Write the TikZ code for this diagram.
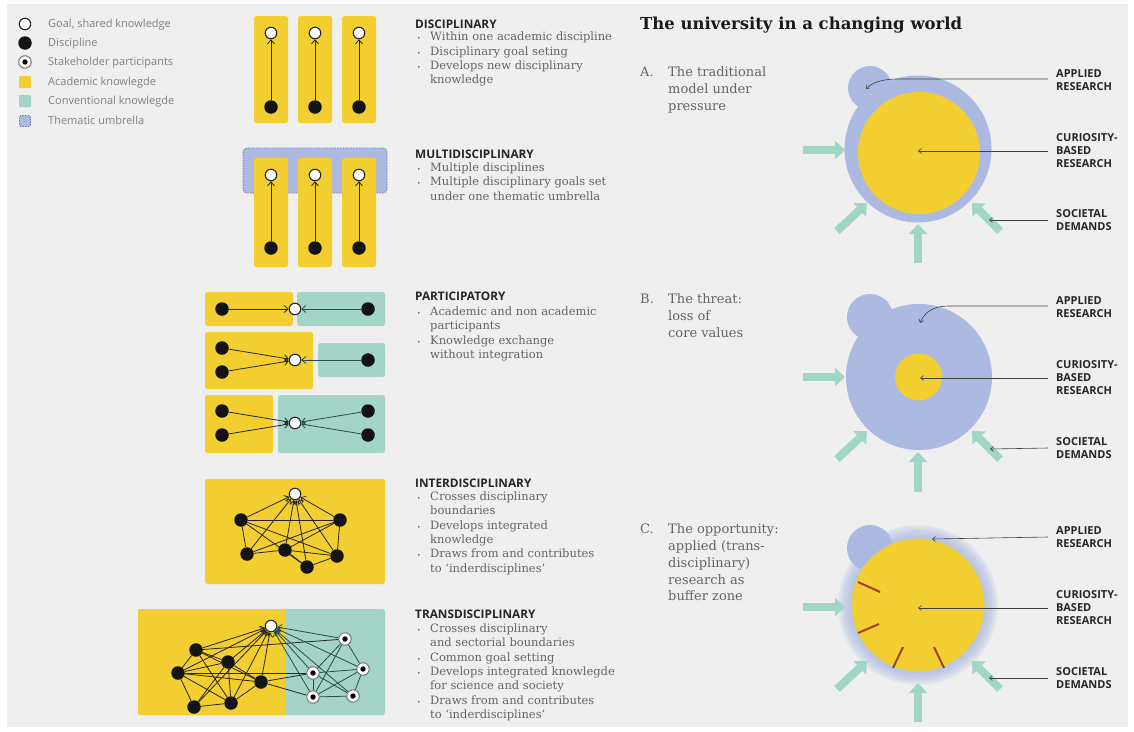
\documentclass[tikz,border=0pt]{standalone}
\usepackage{fontspec}
\setmainfont{DejaVu Serif}
\newfontfamily\osans{Open Sans}
\usetikzlibrary{arrows.meta}
\pgfdeclarelayer{back}
\pgfdeclarelayer{edges}
\pgfsetlayers{back,edges,main}
\definecolor{bggray}{RGB}{239,239,239}
\definecolor{acyel}{RGB}{242,206,48}
\definecolor{conteal}{RGB}{164,211,199}
\definecolor{umblue}{RGB}{172,186,226}
\definecolor{umdash}{RGB}{105,120,178}
\definecolor{arrteal}{RGB}{160,214,198}
\definecolor{txtgray}{RGB}{100,100,100}
\definecolor{leggray}{RGB}{128,128,128}
\definecolor{redstroke}{RGB}{158,68,38}
\definecolor{tealdark}{RGB}{38,78,72}
\newcommand{\bu}{\makebox[13pt][l]{\fontsize{6}{6}\selectfont\textbullet}}
\newcommand{\ind}{\hspace*{13pt}}
\newcommand{\sta}{\rule{0pt}{11pt}}
\tikzset{
  goal/.style={circle, fill=white, draw=black!85, line width=1.1pt, minimum size=11.5pt, inner sep=0pt},
  disc/.style={circle, fill=black!92, minimum size=13.5pt, inner sep=0pt},
  stake/.style={circle, fill=white, draw=black!55, line width=1pt, minimum size=12.5pt, inner sep=0pt,
    path picture={\fill[black] (path picture bounding box.center) circle (2.7pt);}},
  acbox/.style={fill=acyel, rounded corners=2.5pt},
  cvbox/.style={fill=conteal, rounded corners=2.5pt},
  link/.style={draw=black!85, line width=0.8pt},
  tlink/.style={draw=tealdark, line width=0.8pt},
  tolk/.style={link, -{Straight Barb[length=4pt,width=7pt]}},
  toltk/.style={tlink, -{Straight Barb[length=4pt,width=7pt]}},
  fat/.style={draw=arrteal, line width=8pt, -{Triangle[length=10pt,width=18pt]}},
  lab/.style={draw=black!75, line width=0.6pt, -{Straight Barb[length=3pt,width=5pt]}},
  leg/.style={font=\osans\fontsize{11}{13}\selectfont, text=leggray, anchor=base west, inner sep=0pt},
  hd/.style={font=\osans\bfseries\fontsize{11.8}{13}\selectfont, text=black!85, anchor=base west, inner sep=0pt},
  bl/.style={font=\fontsize{11.5}{14.4}\selectfont, text=txtgray, align=left, anchor=north west, inner sep=0pt},
  rt/.style={font=\fontsize{13}{16.8}\selectfont, text=txtgray, align=left, anchor=north west, inner sep=0pt},
  rl/.style={font=\fontsize{13}{16.8}\selectfont, text=txtgray, anchor=base west, inner sep=0pt},
  capt/.style={font=\osans\bfseries\fontsize{11}{13}\selectfont, text=black!85, align=left, anchor=north west, inner sep=0pt},
  ttl/.style={font=\bfseries\fontsize{16.5}{19}\selectfont, text=black!90, anchor=base west, inner sep=0pt}
}
\begin{document}
\begin{tikzpicture}[x=1pt,y=-1pt]
\useasboundingbox (0,0) rectangle (1134,731);
\begin{pgfonlayer}{back}
\fill[white] (0,0) rectangle (1134,731);
\fill[bggray] (7,4) rectangle (1128,727);
\end{pgfonlayer}

% ---------- legend ----------
\node[goal] (lg1) at (25,24) {};
\node[disc] (lg2) at (25,43) {};
\node[stake] (lg3) at (25,62) {};
\node[fill=acyel, minimum size=12pt, inner sep=0pt, rounded corners=1pt] (lg4) at (25,82) {};
\node[fill=conteal, minimum size=12pt, inner sep=0pt, rounded corners=1pt] (lg5) at (25,101) {};
\node[fill=umblue, draw=umdash, line width=0.8pt, dash pattern=on 1.5pt off 1.2pt, minimum size=11pt, inner sep=0pt, rounded corners=1.5pt] (lg6) at (25,121) {};
\node[leg] (lt1) at (48,27.8) {Goal, shared knowledge};
\node[leg] (lt2) at (48,46.8) {Discipline};
\node[leg] (lt3) at (48,65.8) {Stakeholder participants};
\node[leg] (lt4) at (48,85.8) {Academic knowlegde};
\node[leg] (lt5) at (48,104.8) {Conventional knowlegde};
\node[leg] (lt6) at (48,124.8) {Thematic umbrella};

% ---------- disciplinary ----------
\foreach \n/\x in {1/271,2/315,3/359}{
  \begin{pgfonlayer}{back}\fill[acbox] (\x-17,16) rectangle (\x+17,123);\end{pgfonlayer}
  \node[goal] (dg\n) at (\x,33) {};
  \node[disc] (dd\n) at (\x,107) {};
  \begin{pgfonlayer}{edges}\draw[tolk] (dd\n) -- (dg\n);\end{pgfonlayer}
}

% ---------- multidisciplinary ----------
\begin{pgfonlayer}{back}
\filldraw[fill=umblue, draw=umdash, line width=0.8pt, dash pattern=on 1.5pt off 1.2pt, rounded corners=4pt] (243,148) rectangle (387,193);
\end{pgfonlayer}
\foreach \n/\x in {1/271,2/315,3/359}{
  \begin{pgfonlayer}{back}\fill[acbox] (\x-17,158) rectangle (\x+17,267);\end{pgfonlayer}
  \node[goal] (mg\n) at (\x,175) {};
  \node[disc] (md\n) at (\x,248) {};
  \begin{pgfonlayer}{edges}\draw[tolk] (md\n) -- (mg\n);\end{pgfonlayer}
}

% ---------- participatory ----------
\begin{pgfonlayer}{back}
\fill[acbox] (205,292) rectangle (293,326);
\fill[cvbox] (297,292) rectangle (385,326);
\fill[acbox] (205,332) rectangle (313,389);
\fill[cvbox] (318,343) rectangle (385,377);
\fill[acbox] (205,395) rectangle (273,453);
\fill[cvbox] (278,395) rectangle (385,453);
\end{pgfonlayer}
\node[goal] (p1g) at (295,309) {};
\node[disc] (p1a) at (222,309) {};
\node[disc] (p1b) at (368,309) {};
\node[goal] (p2g) at (295,360) {};
\node[disc] (p2a) at (222,348) {};
\node[disc] (p2b) at (222,372) {};
\node[disc] (p2c) at (368,360) {};
\node[goal] (p3g) at (295,423) {};
\node[disc] (p3a) at (222,411) {};
\node[disc] (p3b) at (222,435) {};
\node[disc] (p3c) at (368,411) {};
\node[disc] (p3d) at (368,435) {};
\begin{pgfonlayer}{edges}
\draw[tolk] (p1a) -- (p1g);
\draw[toltk] (p1b) -- (p1g);
\draw[tolk] (p2a) -- (p2g);
\draw[tolk] (p2b) -- (p2g);
\draw[toltk] (p2c) -- (p2g);
\draw[tolk] (p3a) -- (p3g);
\draw[tolk] (p3b) -- (p3g);
\draw[toltk] (p3c) -- (p3g);
\draw[toltk] (p3d) -- (p3g);
\end{pgfonlayer}

% ---------- interdisciplinary ----------
\begin{pgfonlayer}{back}
\fill[acbox] (205,479) rectangle (385,584);
\end{pgfonlayer}
\node[goal] (iG) at (295,494) {};
\node[disc] (iA) at (241,520) {};
\node[disc] (iB) at (340,520) {};
\node[disc] (iC) at (247,554) {};
\node[disc] (iD) at (285,550) {};
\node[disc] (iE) at (337,556) {};
\node[disc] (iF) at (307,567) {};
\begin{pgfonlayer}{edges}
\foreach \a/\b in {iA/iB,iA/iC,iA/iE,iA/iF,iB/iC,iB/iD,iB/iE,iC/iD,iD/iE,iD/iF,iE/iF}
  \draw[link] (\a) -- (\b);
\foreach \a in {iA,iB,iC,iD,iE,iF}
  \draw[tolk] (\a) -- (iG);
\end{pgfonlayer}

% ---------- transdisciplinary ----------
\begin{pgfonlayer}{back}
\fill[cvbox] (138,609) rectangle (385,715);
\fill[acyel] (285,609) [rounded corners=2.5pt] -- (138,609) -- (138,715) [sharp corners] -- (285,715) -- cycle;
\end{pgfonlayer}
\node[goal] (tG) at (271,626) {};
\node[disc] (tP1) at (196,650) {};
\node[disc] (tP2) at (228,662) {};
\node[disc] (tP3) at (178,673) {};
\node[disc] (tP4) at (261,682) {};
\node[disc] (tP5) at (194,707) {};
\node[disc] (tP6) at (231,703) {};
\node[stake] (tS1) at (345,639) {};
\node[stake] (tS2) at (313,673) {};
\node[stake] (tS3) at (363,669) {};
\node[stake] (tS4) at (313,697) {};
\node[stake] (tS5) at (353,696) {};
\begin{pgfonlayer}{edges}
\foreach \a/\b in {tP1/tP2,tP1/tP3,tP1/tP4,tP1/tP6,tP2/tP3,tP2/tP5,tP2/tP6,tP3/tP4,tP3/tP5,tP3/tP6,tP5/tP6,tP4/tP6,tP2/tP4,tP3/tS2,tP4/tS2,tP4/tS4,tP1/tS1}
  \draw[link] (\a) -- (\b);
\foreach \a/\b in {tS1/tS2,tS1/tS3,tS1/tS4,tS2/tS3,tS2/tS4,tS3/tS4,tS3/tS5,tS4/tS5,tS2/tS5}
  \draw[tlink] (\a) -- (\b);
\foreach \a in {tP1,tP2,tP3,tP4,tP5,tP6}
  \draw[tolk] (\a) -- (tG);
\foreach \a in {tS1,tS2,tS3,tS4,tS5}
  \draw[toltk] (\a) -- (tG);
\end{pgfonlayer}

% ---------- middle texts ----------
\node[hd] (h1) at (415,28.1) {DISCIPLINARY};
\node[bl] (b1) at (417,29.5) {\sta\bu Within one academic discipline\\\bu Disciplinary goal seting\\\bu Develops new disciplinary\\\ind knowledge};
\node[hd] (h2) at (415,158.1) {MULTIDISCIPLINARY};
\node[bl] (b2) at (417,160) {\sta\bu Multiple disciplines\\\bu Multiple disciplinary goals set\\\ind under one thematic umbrella};
\node[hd] (h3) at (415,300.1) {PARTICIPATORY};
\node[bl] (b3) at (417,304) {\sta\bu Academic and non academic\\\ind participants\\\bu Knowledge exchange\\\ind without integration};
\node[hd] (h4) at (415,487.1) {INTERDISCIPLINARY};
\node[bl] (b4) at (417,489) {\sta\bu Crosses disciplinary\\\ind boundaries\\\bu Develops integrated\\\ind knowledge\\\bu Draws from and contributes\\\ind to ‘inderdisciplines’};
\node[hd] (h5) at (415,618.1) {TRANSDISCIPLINARY};
\node[bl] (b5) at (417,621) {\sta\bu Crosses disciplinary\\\ind and sectorial boundaries\\\bu Common goal setting\\\bu Develops integrated knowlegde\\\ind for science and society\\\bu Draws from and contributes\\\ind to ‘inderdisciplines’};

% ---------- right: title ----------
\node[ttl] (title) at (640,29) {The university in a changing world};

% ---------- A ----------
\fill[umblue] (870,88) circle (22pt);
\fill[umblue] (918,149) circle (73.5pt);
\fill[acyel] (919,153) circle (61pt);
\coordinate (aL1) at (803,150); \coordinate (aL2) at (845,150);
\coordinate (aBL1) at (837,231); \coordinate (aBL2) at (867,203);
\coordinate (aB1) at (918,263); \coordinate (aB2) at (918,224);
\coordinate (aBR1) at (1000,231); \coordinate (aBR2) at (972,203);
\draw[fat] (aL1) -- (aL2);
\draw[fat] (aBL1) -- (aBL2);
\draw[fat] (aB1) -- (aB2);
\draw[fat] (aBR1) -- (aBR2);
\node[rl] (aA) at (640,76.4) {A.};
\node[rt] (aT) at (668,65.4) {\sta The traditional\\model under\\pressure};
\node[capt] (aC1) at (1056,65.9) {\sta APPLIED\\RESEARCH};
\node[capt] (aC2) at (1056,129.9) {\sta CURIOSITY-\\BASED\\RESEARCH};
\node[capt] (aC3) at (1056,205.9) {\sta SOCIETAL\\DEMANDS};
\coordinate (aE1) at (1048,79); \coordinate (aT1) at (866,89);
\coordinate (aE2) at (1048,151); \coordinate (aT2) at (918,151);
\coordinate (aE3) at (1048,220); \coordinate (aT3) at (989,220);
\draw[lab] (aE1) -- (898,79) .. controls (882,79) and (871,83) .. (aT1);
\draw[lab] (aE2) -- (aT2);
\draw[lab] (aE3) -- (aT3);

% ---------- B ----------
\fill[umblue] (870,317) circle (23pt);
\fill[umblue] (919,377) circle (73pt);
\fill[acyel] (918.5,377) circle (23.5pt);
\coordinate (bL1) at (803,377); \coordinate (bL2) at (845,377);
\coordinate (bBL1) at (837,459); \coordinate (bBL2) at (867,431);
\coordinate (bB1) at (918,492); \coordinate (bB2) at (918,452);
\coordinate (bBR1) at (1000,459); \coordinate (bBR2) at (972,431);
\draw[fat] (bL1) -- (bL2);
\draw[fat] (bBL1) -- (bBL2);
\draw[fat] (bB1) -- (bB2);
\draw[fat] (bBR1) -- (bBR2);
\node[rl] (bA) at (640,303.4) {B.};
\node[rt] (bT) at (668,292.4) {\sta The threat:\\loss of\\core values};
\node[capt] (bC1) at (1056,292.9) {\sta APPLIED\\RESEARCH};
\node[capt] (bC2) at (1056,356.9) {\sta CURIOSITY-\\BASED\\RESEARCH};
\node[capt] (bC3) at (1056,433.9) {\sta SOCIETAL\\DEMANDS};
\coordinate (bE1) at (1048,306); \coordinate (bT1) at (920,323);
\coordinate (bE2) at (1048,378); \coordinate (bT2) at (920,378);
\coordinate (bE3) at (1048,448); \coordinate (bT3) at (990,449);
\draw[lab] (bE1) -- (948,306) .. controls (933,306) and (924,313) .. (bT1);
\draw[lab] (bE2) -- (bT2);
\draw[lab] (bE3) -- (bT3);

% ---------- C ----------
\fill[umblue] (870,548) circle (23pt);
\foreach \r in {80,78,...,68}
  \fill[umblue, opacity=0.18] (918,605) circle (\r pt);
\fill[acyel] (918,605) circle (66pt);
\draw[acyel!75!conteal, line width=1.2pt] (918,605) circle (66pt);
\foreach \a/\b/\c/\d in {858/582/880/592, 858/633/879/624, 893/668/903/647, 944/668/934/647}
  \draw[redstroke, line width=2pt] (\a,\b) -- (\c,\d);
\foreach \a/\b/\c/\d in {828/642/840/637, 880/683/885/697, 950/683/953/697}
  \draw[white!80!umblue, line width=2pt] (\a,\b) -- (\c,\d);
\coordinate (cL1) at (803,607); \coordinate (cL2) at (845,607);
\coordinate (cBL1) at (837,689); \coordinate (cBL2) at (867,661);
\coordinate (cB1) at (918,722); \coordinate (cB2) at (918,683);
\coordinate (cBR1) at (1000,689); \coordinate (cBR2) at (972,661);
\draw[fat] (cL1) -- (cL2);
\draw[fat] (cBL1) -- (cBL2);
\draw[fat] (cB1) -- (cB2);
\draw[fat] (cBR1) -- (cBR2);
\node[rl] (cA) at (640,533.4) {C.};
\node[rt] (cT) at (668,522.4) {\sta The opportunity:\\applied (trans-\\disciplinary)\\research as\\buffer zone};
\node[capt] (cC1) at (1056,522.9) {\sta APPLIED\\RESEARCH};
\node[capt] (cC2) at (1056,586.9) {\sta CURIOSITY-\\BASED\\RESEARCH};
\node[capt] (cC3) at (1056,663.9) {\sta SOCIETAL\\DEMANDS};
\coordinate (cE1) at (1048,537); \coordinate (cT1) at (932,539);
\coordinate (cE2) at (1048,608); \coordinate (cT2) at (918,608);
\coordinate (cE3) at (1048,678); \coordinate (cT3) at (989,678);
\draw[lab] (cE1) -- (cT1);
\draw[lab] (cE2) -- (cT2);
\draw[lab] (cE3) -- (cT3);
\end{tikzpicture}
\end{document}
